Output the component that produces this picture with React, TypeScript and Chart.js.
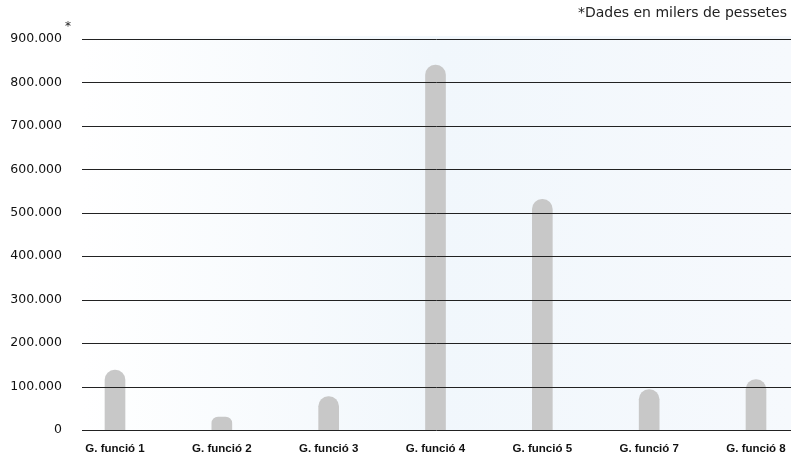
import React, { useEffect, useRef } from "react";
import { Chart, registerables } from "chart.js";

Chart.register(...registerables);

const categories = [
  "G. funció 1",
  "G. funció 2",
  "G. funció 3",
  "G. funció 4",
  "G. funció 5",
  "G. funció 7",
  "G. funció 8",
];
const values = [138000, 30000, 77000, 840000, 531000, 93000, 116000];
const yMax = 900000;
const yStep = 100000;
const noteText = "*Dades en milers de pessetes";

const fmt = (v: number) =>
  v === 0 ? "0" : String(Math.round(v)).replace(/\B(?=(\d{3})+(?!\d))/g, ".");

const decorPlugin = {
  id: "decor",
  beforeDatasetsDraw(chart: any) {
    const { ctx, scales } = chart;
    const y = scales.y;
    const left = 82;
    const right = chart.width;
    const top = y.getPixelForValue(yMax) - 3;
    const bottom = y.getPixelForValue(0);
    const g = ctx.createLinearGradient(left, 0, right, 0);
    g.addColorStop(0, "#ffffff");
    g.addColorStop(0.5, "#f1f7fc");
    g.addColorStop(1, "#f6f9fd");
    ctx.save();
    ctx.fillStyle = g;
    ctx.fillRect(left, top, right - left, bottom - top);
    ctx.restore();
  },
  afterDatasetsDraw(chart: any) {
    const { ctx, scales } = chart;
    const y = scales.y;
    ctx.save();
    ctx.strokeStyle = "#222222";
    ctx.lineWidth = 1;
    y.ticks.forEach((t: any) => {
      const py = Math.round(y.getPixelForValue(t.value)) + 0.5;
      ctx.beginPath();
      ctx.moveTo(82, py);
      ctx.lineTo(chart.width, py);
      ctx.stroke();
    });
    ctx.fillStyle = "#222222";
    ctx.font = "14px 'DejaVu Sans'";
    ctx.textAlign = "right";
    ctx.textBaseline = "middle";
    ctx.fillText(noteText, 787, 13);
    ctx.font = "12px 'DejaVu Sans'";
    ctx.textAlign = "center";
    ctx.fillText("*", 68, 27);
    ctx.restore();
  },
};

export default function App() {
  const ref = useRef<HTMLCanvasElement>(null);
  useEffect(() => {
    document.body.style.margin = "0";
    const chart = new Chart(ref.current!, {
      type: "bar",
      data: {
        labels: categories,
        datasets: [
          {
            data: values,
            backgroundColor: "#c8c8c8",
            borderWidth: 0,
            barThickness: 20,
            borderRadius: 10,
            borderSkipped: "start",
            clip: false as any,
          },
        ],
      },
      plugins: [decorPlugin],
      options: {
        responsive: false,
        animation: false,
        layout: { padding: { top: 39, right: 35, bottom: 0, left: 0 } },
        plugins: {
          legend: { display: false },
          tooltip: { enabled: false },
        },
        scales: {
          x: {
            offset: false,
            grid: { display: false, drawTicks: false },
            border: { display: false },
            ticks: {
              color: "#111111",
              font: { family: "'Liberation Sans'", size: 11.5, weight: "bold" },
              padding: 12,
              maxRotation: 0,
              autoSkip: false,
            },
            afterFit(scale: any) {
              scale.height = 25;
              scale.paddingLeft = 0;
              scale.paddingRight = 0;
            },
          },
          y: {
            min: 0,
            max: yMax,
            grid: { display: false, drawTicks: false },
            border: { display: false },
            ticks: {
              stepSize: yStep,
              color: "#111111",
              font: { family: "'DejaVu Sans'", size: 12.5 },
              padding: 53,
              callback: (v: any) => fmt(Number(v)),
            },
            afterFit(scale: any) {
              scale.width = 115;
              scale.paddingTop = 0;
              scale.paddingBottom = 0;
            },
          },
        },
      },
    });
    return () => chart.destroy();
  }, []);
  return (
    <div style={{ width: 791, height: 455 }}>
      <canvas ref={ref} width={791} height={455} />
    </div>
  );
}
